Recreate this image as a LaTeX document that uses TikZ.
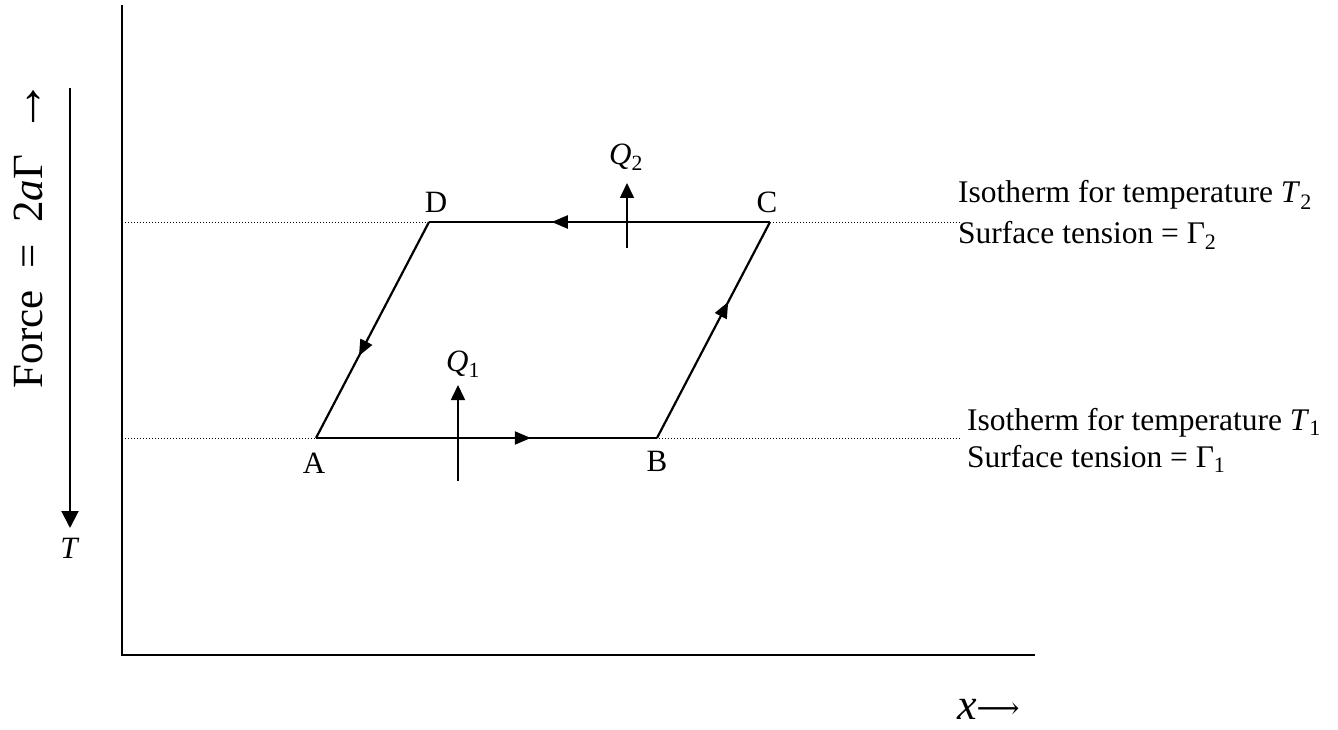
\documentclass[tikz,border=0pt]{standalone}
\usepackage{fontspec}
\setmainfont{Liberation Serif}
\newfontfamily\arrowfont{DejaVu Serif}
\usetikzlibrary{arrows.meta,decorations.markings}
\tikzset{
  cycleline/.style={line width=2.2pt},
  axisline/.style={line width=2pt},
  isoline/.style={line width=1pt, dotted},
  heatarrow/.style={line width=1.6pt, -{Triangle[width=14pt,length=15pt]}},
  midarrow/.style={postaction={decorate},decoration={markings,
     mark=at position #1 with {\arrow{Triangle[width=13pt,length=16pt]}}}},
  ptlabel/.style={font=\fontsize{31}{34}\selectfont, inner sep=0pt},
  sidetext/.style={font=\fontsize{31.5}{34}\selectfont, inner sep=0pt, anchor=base west},
}
\begin{document}
\begin{tikzpicture}[x=1pt,y=-1pt]
\useasboundingbox (0,0) rectangle (1338,730);
% axes
\coordinate (O) at (122,655);
\coordinate (Ytop) at (122,5);
\coordinate (Xend) at (1035,655);
\draw[axisline] (Ytop) -- (O) -- (Xend);
% isotherms
\coordinate (L2) at (125,222);
\coordinate (R2) at (960,222);
\coordinate (L1) at (125,438);
\coordinate (R1) at (960,438);
\draw[isoline] (L2) -- (R2);
\draw[isoline] (L1) -- (R1);
% cycle
\coordinate (A) at (316,438);
\coordinate (B) at (657,438);
\coordinate (C) at (770,222);
\coordinate (D) at (429,222);
\draw[cycleline, midarrow=0.63] (A) -- (B);
\draw[cycleline, midarrow=0.63] (B) -- (C);
\draw[cycleline, midarrow=0.64] (C) -- (D);
\draw[cycleline, midarrow=0.62] (D) -- (A);
% point labels
\node[ptlabel] (lA) at (314,463) {A};
\node[ptlabel] (lB) at (657,461) {B};
\node[ptlabel] (lC) at (767,202) {C};
\node[ptlabel] (lD) at (436,202) {D};
% heat arrows
\coordinate (Q1s) at (458,481);
\coordinate (Q1e) at (458,385);
\draw[heatarrow] (Q1s) -- (Q1e);
\node[ptlabel] (q1) at (463,364) {\textit{Q}\textsubscript{1}};
\coordinate (Q2s) at (627,248);
\coordinate (Q2e) at (627,183);
\draw[heatarrow] (Q2s) -- (Q2e);
\node[ptlabel] (q2) at (626,157) {\textit{Q}\textsubscript{2}};
% side texts
\node[sidetext] (t2a) at (958,203) {Isotherm for temperature \textit{T}\textsubscript{2}};
\node[sidetext] (t2b) at (958,243) {Surface tension = Γ\textsubscript{2}};
\node[sidetext] (t1a) at (967,430) {Isotherm for temperature \textit{T}\textsubscript{1}};
\node[sidetext] (t1b) at (967,467) {Surface tension = Γ\textsubscript{1}};
% left axis label
\node[rotate=90, inner sep=0pt, font=\fontsize{43}{46}\selectfont] (force) at (28,234)
  {Force\ \ =\ \ 2\textit{a}Γ\ \ \scalebox{1.25}{→}};
\coordinate (Ts) at (70,88);
\coordinate (Te) at (70,528);
\draw[line width=2pt, -{Triangle[width=17pt,length=17pt]}] (Ts) -- (Te);
\node[inner sep=0pt, font=\fontsize{31}{34}\selectfont] (Tl) at (70,548) {\textit{T}};
% x label
\node[inner sep=0pt, anchor=base west, font=\fontsize{44}{46}\selectfont] (xl) at (957,719)
  {\textit{x}{\arrowfont\fontsize{30}{32}\selectfont\raisebox{1pt}{⟶}}};
\end{tikzpicture}
\end{document}
